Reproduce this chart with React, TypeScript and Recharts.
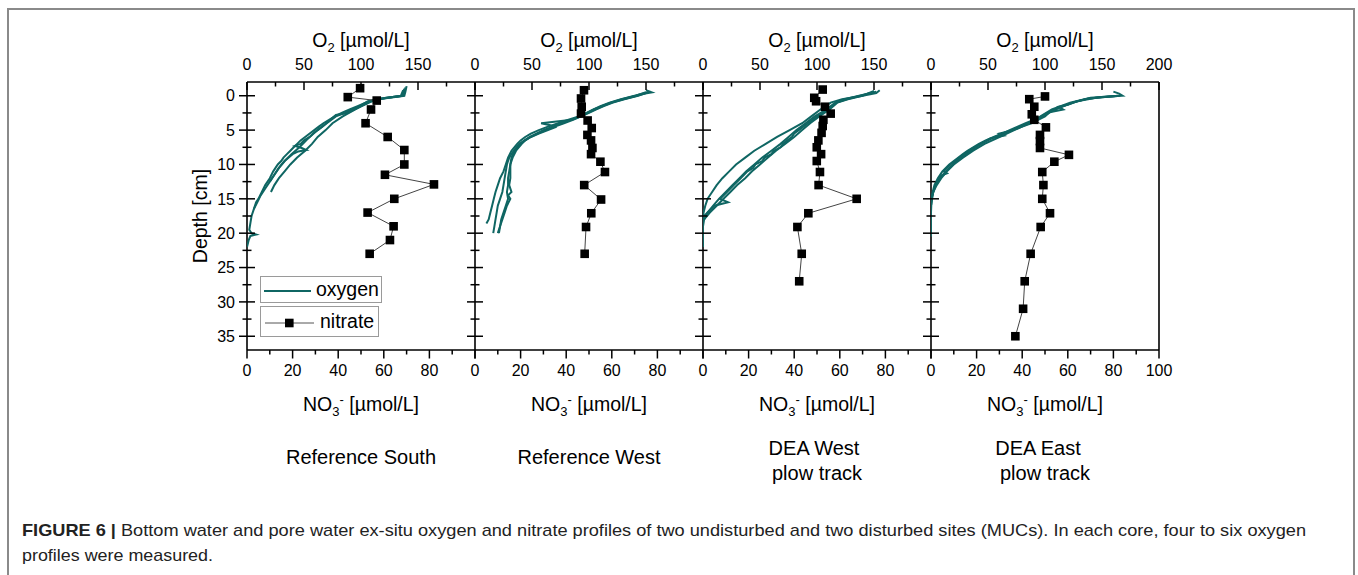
import React from 'react';
import { ScatterChart, Scatter, XAxis, YAxis, ReferenceLine, Legend } from 'recharts';

type Pair = [number, number];

// ---------- axis ticks / labels ----------
const depthTicks = [0, 2.5, 5, 7.5, 10, 12.5, 15, 17.5, 20, 22.5, 25, 27.5, 30, 32.5, 35];
const depthLabels = [0, 5, 10, 15, 20, 25, 30, 35];
const o2Ticks = [0, 25, 50, 75, 100, 125, 150, 175, 200];
const o2Labels = [0, 50, 100, 150];
const o2LabelsLast = [0, 50, 100, 150, 200];
const no3Ticks = [0, 10, 20, 30, 40, 50, 60, 70, 80, 90, 100];
const no3Labels = [0, 20, 40, 60, 80];
const no3LabelsLast = [0, 20, 40, 60, 80, 100];

const panelNames: string[][] = [
  ['Reference South'],
  ['Reference West'],
  ['DEA West', ' plow track'],
  ['DEA East', 'plow track'],
];
const legendLabels = ['oxygen', 'nitrate'];

// ---------- nitrate  [depth cm, NO3 µmol/L] ----------
const southNitrate: Pair[] = [
  [-1.1, 49.6], [0.2, 44.2], [0.7, 56.9], [2.0, 54.4], [4.0, 52.0], [6.0, 61.7], [7.9, 69.0],
  [10.0, 69.0], [11.5, 60.5], [12.9, 82.0], [15.0, 64.6], [17.0, 52.9], [19.0, 64.3], [21.0, 62.7], [23.0, 53.8],
];
const westNitrate: Pair[] = [
  [-0.8, 47.8], [0.4, 46.5], [1.6, 46.8], [2.6, 46.5], [3.6, 49.4], [4.7, 51.2], [5.7, 49.3], [6.5, 50.9],
  [7.6, 51.5], [8.5, 50.9], [9.6, 55.0], [11.1, 57.0], [13.0, 47.9], [15.1, 55.3], [17.1, 51.0], [19.1, 48.7], [23.0, 48.1],
];
const deaWestNitrate: Pair[] = [
  [-0.9, 52.5], [0.3, 48.8], [0.8, 49.6], [1.6, 53.5], [2.6, 56.0], [3.5, 52.8], [4.4, 52.5], [5.4, 52.0],
  [6.5, 50.6], [7.5, 49.9], [8.5, 51.8], [9.5, 49.9], [11.1, 51.3], [13.0, 50.7], [15.0, 67.4], [17.1, 46.2],
  [19.1, 41.4], [23.0, 43.3], [27.0, 42.2],
];
const deaEastNitrate: Pair[] = [
  [0.1, 50.0], [0.5, 43.1], [1.6, 45.3], [2.7, 44.2], [3.5, 45.3], [4.6, 50.4], [5.7, 47.8], [6.6, 47.8],
  [7.6, 47.8], [8.6, 60.5], [9.6, 54.1], [11.1, 48.8], [13.0, 49.3], [15.0, 48.8], [17.1, 52.2], [19.1, 48.1],
  [23.0, 43.7], [27.0, 41.1], [31.0, 40.4], [35.0, 37.0],
];

// ---------- oxygen profiles  [depth cm, O2 µmol/L] ----------
const southOxy1: Pair[] = [
  [-1.4, 140], [-0.6, 139], [0, 138], [0.3, 125], [0.6, 112], [1.0, 104], [1.5, 97], [2.0, 90], [2.5, 83],
  [3.0, 77], [3.5, 72], [4.0, 67], [4.5, 63], [5.0, 59], [5.5, 55], [6.0, 51], [6.5, 47], [7.0, 44], [7.5, 41],
  [8.0, 38], [8.5, 35], [9.0, 32], [9.5, 30], [10.0, 27], [10.5, 25], [11.0, 23], [12.0, 20], [13.0, 16],
  [14.0, 13], [15.0, 10], [15.5, 8], [16.5, 6], [17.5, 4], [18.5, 3], [19.5, 2], [20.0, 4], [20.2, 8],
  [20.4, 3], [21.0, 1.5], [22.0, 0],
];
const southOxy2: Pair[] = [
  [-1.2, 139], [0, 137], [0.3, 122], [0.7, 110], [1.2, 104], [2.0, 95], [3.0, 84], [4.0, 75], [5.0, 69],
  [6.0, 62], [7.0, 57], [8.0, 51], [9.0, 44], [10.0, 38], [11.0, 33], [12.0, 28], [13.0, 24], [14.0, 21],
];
const southOxy3: Pair[] = [
  [-1.0, 138], [0, 136], [0.4, 118], [0.8, 106], [1.5, 99], [2.5, 86], [3.0, 78], [4.0, 70], [5.0, 62],
  [6.0, 55], [6.5, 50], [7.0, 47], [7.3, 42], [7.6, 48], [7.9, 52], [8.1, 45], [8.5, 40], [9.5, 33],
  [10.5, 28], [11.5, 24], [12.5, 20], [13.5, 16], [14.5, 12], [15.5, 9], [16.5, 6],
];
const southOxy4: Pair[] = [
  [-0.8, 137], [0, 135], [0.5, 115], [1.0, 107], [2.0, 94], [2.5, 88], [2.8, 78], [3.5, 73], [4.5, 66],
  [5.5, 58], [6.5, 52], [7.5, 46], [8.5, 39], [9.5, 33], [10.5, 28], [11.5, 24], [12.5, 20],
];

const westOxy1: Pair[] = [
  [-0.5, 152], [0, 140], [0.5, 128], [1, 118], [1.5, 110], [2, 104], [2.5, 98], [3, 91], [3.5, 82], [4, 73],
  [4.5, 64], [5, 56], [5.5, 49], [6, 44], [6.5, 40], [7, 37], [8, 32], [9, 29], [10, 27], [11, 25], [12, 22],
  [13, 20], [14, 18], [15, 16.5], [16, 15], [17, 13.5], [18, 12], [18.6, 10],
];
const westOxy2: Pair[] = [
  [-0.8, 150], [-0.5, 155], [-0.3, 148], [0, 142], [0.5, 130], [1, 120], [1.5, 112], [2, 105], [2.5, 99],
  [3, 93], [3.5, 85], [4, 58], [4.3, 66], [4.6, 70], [5, 64], [5.5, 56], [6, 49], [6.5, 44], [7, 40],
  [7.5, 37], [8, 35], [9, 32], [10, 31], [11, 31], [12, 31], [13, 30], [14, 32], [14.5, 29], [15, 31],
  [16, 28], [17, 26], [18, 24], [19, 22], [20, 20],
];
const westOxy3: Pair[] = [
  [-0.6, 154], [0, 143], [0.5, 131], [1, 121], [1.5, 113], [2, 106], [2.5, 100], [3, 93], [3.5, 86], [4, 78],
  [4.5, 70], [5, 62], [5.5, 55], [6, 49], [6.5, 44], [7, 41], [8, 36], [9, 33], [10, 31], [11, 30], [12, 29],
  [13, 29], [14, 28], [15, 29], [16, 27], [17, 25], [18, 23], [19, 22], [20, 21],
];
const westOxy4: Pair[] = [
  [-0.5, 150], [0, 141], [0.5, 129], [1, 119], [2, 104], [3, 92], [4, 76], [5, 60], [6, 48], [7, 39], [8, 34],
  [9, 30], [10, 28], [11, 27], [12, 26], [13, 25], [14, 24], [15, 22], [16, 20], [17, 19], [18, 18], [19, 17], [20, 16],
];

const deaWestOxy1: Pair[] = [
  [-0.7, 150], [0, 140], [0.5, 122], [1, 112], [2, 103], [3, 95], [4, 87], [5, 76], [6, 65], [7, 55], [8, 45],
  [9, 37], [10, 29], [11, 23], [12, 17], [13, 12], [14, 8], [15, 4], [16, 2], [17, 0.5], [18, 0], [20, 0], [22, 0],
];
const deaWestOxy2: Pair[] = [
  [-0.8, 155], [-0.4, 152], [0, 140], [0.5, 127], [1, 118], [2, 111], [3, 102], [4, 94], [5, 87], [6, 80],
  [7, 72], [8, 64], [9, 57], [10, 50], [11, 43], [12, 37], [13, 30], [14, 24], [15, 18], [16, 12], [17, 6], [18, 1], [19, 0],
];
const deaWestOxy3: Pair[] = [
  [-0.6, 152], [0, 138], [0.5, 126], [1, 117], [2, 110], [3, 100], [4, 92], [5, 84], [5.5, 80], [6, 78],
  [6.5, 74], [7, 70], [7.5, 68], [8, 62], [8.5, 60], [9, 54], [9.5, 52], [10, 46], [10.5, 44], [11, 39],
  [12, 33], [13, 27], [14, 21], [15, 15], [15.5, 22], [16, 10], [17, 4], [17.5, 1],
];
const deaWestOxy4: Pair[] = [
  [-0.5, 150], [0, 137], [0.5, 124], [1, 116], [2, 108], [3, 98], [4, 90], [5, 82], [6, 75], [7, 68], [8, 60],
  [9, 52], [10, 45], [11, 38], [12, 32], [13, 26], [14, 20], [15, 14], [16, 9], [17, 4], [18, 1],
];

const deaEastOxy1: Pair[] = [
  [-0.6, 160], [-0.3, 165], [0, 168], [0.2, 150], [0.5, 135], [1, 125], [1.5, 116], [2, 108], [2.5, 102],
  [3, 97], [3.5, 93], [4, 85], [4.5, 78], [5, 71], [5.5, 63], [6, 55], [6.5, 48], [7, 42], [7.5, 37], [8, 32],
  [8.5, 28], [9, 24], [9.5, 20], [10, 16], [10.5, 13], [11, 10], [11.5, 8], [12, 6], [13, 3], [14, 1.5],
  [15, 0.5], [17, 0], [19, 0], [20.5, 0],
];
const deaEastOxy2: Pair[] = [
  [0, 166], [0.3, 145], [0.8, 128], [1.3, 120], [1.6, 112], [2, 116], [2.4, 104], [3, 100], [3.5, 94], [4, 88],
  [4.5, 80], [5, 72], [5.5, 60], [5.8, 64], [6.2, 52], [6.8, 46], [7.5, 38], [8, 33], [8.5, 29], [9, 25],
  [9.5, 21], [10, 17], [10.5, 14], [11, 11], [11.3, 14], [11.6, 9], [12, 7], [13, 4], [14, 2], [15, 0.5], [16, 0],
];
const deaEastOxy3: Pair[] = [
  [0, 165], [0.3, 140], [1, 122], [2, 106], [3, 96], [3.5, 90], [4, 83], [4.5, 76], [5, 69], [6, 56], [7, 44],
  [8, 35], [9, 26], [10, 19], [11, 13], [12, 8], [13, 4], [14, 2], [15, 0],
];
const deaEastOxy4: Pair[] = [
  [0, 164], [0.4, 138], [1, 124], [2, 109], [3, 98], [4, 86], [5, 73], [6, 60], [7, 47], [8, 37], [9, 28],
  [10, 20], [11, 14], [12, 9], [13, 5], [14, 2], [15, 1], [16, 0], [18, 0],
];

const panels = [
  { oxy: [southOxy1, southOxy2, southOxy3, southOxy4], nitrate: southNitrate },
  { oxy: [westOxy1, westOxy2, westOxy3, westOxy4], nitrate: westNitrate },
  { oxy: [deaWestOxy1, deaWestOxy2, deaWestOxy3, deaWestOxy4], nitrate: deaWestNitrate },
  { oxy: [deaEastOxy1, deaEastOxy2, deaEastOxy3, deaEastOxy4], nitrate: deaEastNitrate },
];

// ---------- styles / geometry ----------
const TEAL = '#0f6663';
const FONT = '"Liberation Sans", Arial, Helvetica, sans-serif';
const PLOT_W = 228;
const Y_AXIS_W = 60;
const M_TOP = 52;
const TOP_AXIS_H = 30;
const BOT_AXIS_H = 60;
const M_BOTTOM = 10;
const M_RIGHT = 30;
const CW = Y_AXIS_W + PLOT_W + M_RIGHT;
const CH = 420;
const AXIS_X = Y_AXIS_W;
const TOP_Y = M_TOP + TOP_AXIS_H;
const BOT_Y = CH - M_BOTTOM - BOT_AXIS_H;
const FIRST_PLOT_LEFT = 247;
const AXIS_STYLE = { stroke: '#000', strokeWidth: 1.6 };
const TICK_FS = 16;

const toO2 = (p: Pair[]) => p.map(([depth, o2]) => ({ depth, o2 }));
const toNo3 = (p: Pair[]) => p.map(([depth, no3]) => ({ depth, no3 }));

const Empty = () => <g />;
const Square = (props: any) => {
  const { cx, cy } = props;
  if (cx == null || cy == null) return <g />;
  const s = 8.6;
  return <rect x={cx - s / 2} y={cy - s / 2} width={s} height={s} fill="#000" />;
};

const DepthTick = (props: any) => {
  const { y, payload, showLabels } = props;
  const v = payload.value;
  const major = depthLabels.includes(v);
  const len = major ? 8 : 4.5;
  return (
    <g>
      <line x1={AXIS_X - len} x2={AXIS_X + len} y1={y} y2={y} stroke="#000" strokeWidth={1.5} />
      {showLabels && major && (
        <text x={AXIS_X - 12} y={y + 5.7} textAnchor="end" fontSize={TICK_FS} fill="#000">
          {v}
        </text>
      )}
    </g>
  );
};

const TopTick = (props: any) => {
  const { x, payload, labels } = props;
  const v = payload.value;
  const major = v % 50 === 0;
  return (
    <g>
      <line x1={x} x2={x} y1={TOP_Y} y2={TOP_Y + (major ? 8 : 4.5)} stroke="#000" strokeWidth={1.5} />
      {labels.includes(v) && (
        <text x={x} y={TOP_Y - 12} textAnchor="middle" fontSize={TICK_FS} fill="#000">
          {v}
        </text>
      )}
    </g>
  );
};

const BottomTick = (props: any) => {
  const { x, payload, labels } = props;
  const v = payload.value;
  const major = v % 20 === 0;
  return (
    <g>
      <line x1={x} x2={x} y1={BOT_Y} y2={BOT_Y + (major ? 8.5 : 4.5)} stroke="#000" strokeWidth={1.5} />
      {labels.includes(v) && (
        <text x={x} y={BOT_Y + 26} textAnchor="middle" fontSize={TICK_FS} fill="#000">
          {v}
        </text>
      )}
    </g>
  );
};

const LegendBox = () => (
  <div style={{ position: 'relative', width: 125, height: 62, fontFamily: FONT, fontSize: 19.5, color: '#000' }}>
    <div style={{ position: 'absolute', left: 0, top: 0, width: 122, height: 27, border: '1px solid #9a9a9a', boxSizing: 'border-box' }}>
      <svg width={60} height={27} style={{ position: 'absolute', left: 0, top: 0 }}>
        <line x1={3} x2={50} y1={14} y2={14} stroke={TEAL} strokeWidth={2} />
      </svg>
      <span style={{ position: 'absolute', left: 55, top: 0, lineHeight: '25px' }}>{legendLabels[0]}</span>
    </div>
    <div style={{ position: 'absolute', left: 0, top: 30, width: 119, height: 31, border: '1px solid #9a9a9a', boxSizing: 'border-box' }}>
      <svg width={60} height={31} style={{ position: 'absolute', left: 0, top: 0 }}>
        <line x1={4} x2={53} y1={16} y2={16} stroke="#555" strokeWidth={1} />
        <rect x={24} y={11.7} width={8.6} height={8.6} fill="#000" />
      </svg>
      <span style={{ position: 'absolute', left: 59, top: 1, lineHeight: '27px' }}>{legendLabels[1]}</span>
    </div>
  </div>
);

const Panel = ({ idx }: { idx: number }) => {
  const { oxy, nitrate } = panels[idx];
  const last = idx === panels.length - 1;
  const left = FIRST_PLOT_LEFT + idx * PLOT_W - Y_AXIS_W;
  return (
    <div style={{ position: 'absolute', left, top: 0 }}>
      <ScatterChart width={CW} height={CH} margin={{ top: M_TOP, right: M_RIGHT, bottom: M_BOTTOM, left: 0 }}>
        <XAxis
          xAxisId="o2"
          orientation="top"
          type="number"
          dataKey="o2"
          domain={[0, 200]}
          ticks={o2Ticks}
          interval={0}
          height={TOP_AXIS_H}
          tickLine={false}
          axisLine={AXIS_STYLE}
          allowDataOverflow
          tick={<TopTick labels={last ? o2LabelsLast : o2Labels} />}
        />
        <XAxis
          xAxisId="no3"
          orientation="bottom"
          type="number"
          dataKey="no3"
          domain={[0, 100]}
          ticks={no3Ticks}
          interval={0}
          height={BOT_AXIS_H}
          tickLine={false}
          axisLine={AXIS_STYLE}
          allowDataOverflow
          tick={<BottomTick labels={last ? no3LabelsLast : no3Labels} />}
        />
        <YAxis
          yAxisId="d"
          type="number"
          dataKey="depth"
          reversed
          domain={[-2, 37]}
          ticks={depthTicks}
          interval={0}
          width={Y_AXIS_W}
          tickLine={false}
          axisLine={AXIS_STYLE}
          allowDataOverflow
          tick={<DepthTick showLabels={idx === 0} />}
        />
        {last && <ReferenceLine xAxisId="no3" yAxisId="d" x={100} stroke="#000" strokeWidth={1.6} />}
        {oxy.map((p, i) => (
          <Scatter
            key={i}
            name={legendLabels[0]}
            data={toO2(p)}
            xAxisId="o2"
            yAxisId="d"
            fill={TEAL}
            line={{ stroke: TEAL, strokeWidth: 2 }}
            shape={Empty}
            legendType={i === 0 ? 'line' : 'none'}
            isAnimationActive={false}
          />
        ))}
        <Scatter
          name={legendLabels[1]}
          data={toNo3(nitrate)}
          xAxisId="no3"
          yAxisId="d"
          fill="#000"
          line={{ stroke: '#444', strokeWidth: 1 }}
          shape={Square}
          legendType="square"
          isAnimationActive={false}
        />
        {idx === 0 && (
          <Legend
            layout="horizontal"
            align="center"
            verticalAlign="middle"
            content={LegendBox}
            wrapperStyle={{ position: 'absolute', left: 260 - left, top: 276, width: 125, height: 62 }}
          />
        )}
      </ScatterChart>
    </div>
  );
};

const Overlay = () => {
  const centers = panels.map((_, i) => FIRST_PLOT_LEFT + i * PLOT_W + PLOT_W / 2);
  const nameX = [[361], [589], [814, 817], [1038, 1045]];
  return (
    <svg width={1358} height={575} style={{ position: 'absolute', left: 0, top: 0 }} fontFamily={FONT}>
      {centers.map((cx, i) => (
        <g key={i}>
          <text x={cx} y={47} textAnchor="middle" fontSize={19.5} fill="#000">
            O<tspan dy={4.5} fontSize={13}>2</tspan>
            <tspan dy={-4.5}> [µmol/L]</tspan>
          </text>
          <text x={cx} y={411} textAnchor="middle" fontSize={19.5} fill="#000">
            NO<tspan dy={4.5} fontSize={13}>3</tspan>
            <tspan dy={-12} fontSize={13}>-</tspan>
            <tspan dy={7.5}> [µmol/L]</tspan>
          </text>
          {panelNames[i].map((line, j) => (
            <text
              key={j}
              x={nameX[i][j]}
              y={panelNames[i].length === 1 ? 464 : 455 + j * 25}
              textAnchor="middle"
              fontSize={20}
              fill="#000"
            >
              {line.trim()}
            </text>
          ))}
        </g>
      ))}
      <text x={207} y={216} transform="rotate(-90 207 216)" textAnchor="middle" fontSize={19.5} fill="#000">
        Depth [cm]
      </text>
      <text x={22} y={536} fontSize={17} fill="#222" textLength={1284} lengthAdjust="spacingAndGlyphs">
        <tspan fontWeight="bold">FIGURE 6 | </tspan>
        <tspan>
          Bottom water and pore water ex-situ oxygen and nitrate profiles of two undisturbed and two disturbed sites (MUCs). In each core, four to six oxygen
        </tspan>
      </text>
      <text x={22} y={561} fontSize={17} fill="#222" textLength={191} lengthAdjust="spacingAndGlyphs">
        profiles were measured.
      </text>
    </svg>
  );
};

export default function App() {
  return (
    <div
      style={{
        position: 'absolute',
        left: 0,
        top: 0,
        width: 1358,
        height: 575,
        overflow: 'hidden',
        background: '#fff',
        fontFamily: FONT,
      }}
    >
      <div
        style={{
          position: 'absolute',
          left: 7,
          top: 8,
          width: 1348,
          height: 600,
          borderTop: '2px solid #8a8a8a',
          borderLeft: '2px solid #8a8a8a',
          borderRight: '2px solid #8a8a8a',
          boxSizing: 'border-box',
        }}
      />
      <Overlay />
      {panels.map((_, i) => (
        <Panel key={i} idx={i} />
      ))}
    </div>
  );
}
